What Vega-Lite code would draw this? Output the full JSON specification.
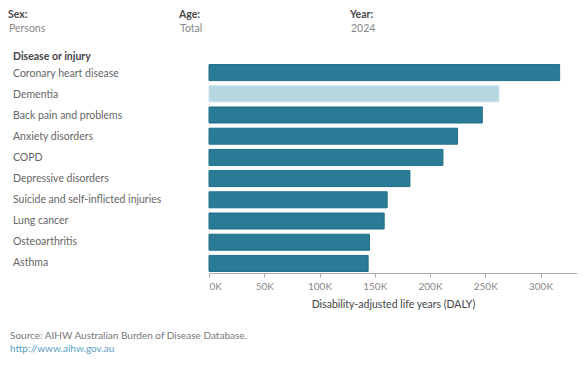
{
  "$schema": "https://vega.github.io/schema/vega-lite/v6.json",
  "background": "white",
  "padding": {"left": 8, "top": 6, "right": 0, "bottom": 0},
  "config": {"view": {"stroke": null}, "font": "Lato"},
  "datasets": {
    "daly": [
      {"disease": "Coronary heart disease", "daly": 317300},
      {"disease": "Dementia", "daly": 262400},
      {"disease": "Back pain and problems", "daly": 247300},
      {"disease": "Anxiety disorders", "daly": 224900},
      {"disease": "COPD", "daly": 211700},
      {"disease": "Depressive disorders", "daly": 181800},
      {"disease": "Suicide and self-inflicted injuries", "daly": 161200},
      {"disease": "Lung cancer", "daly": 158500},
      {"disease": "Osteoarthritis", "daly": 145200},
      {"disease": "Asthma", "daly": 144000}
    ]
  },
  "spacing": 16,
  "vconcat": [
    {
      "width": 342,
      "height": 23,
      "data": {"values": [
        {"k": "Sex:", "v": "Persons"},
        {"k": "Age:", "v": "Total"},
        {"k": "Year:", "v": "2024"}
      ]},
      "layer": [
        {
          "mark": {"type": "text", "align": "left", "baseline": "middle", "dy": -2.5, "fontSize": 10.5, "fontWeight": "bold", "color": "#4a4a4a"},
          "encoding": {
            "x": {"field": "k", "type": "nominal", "sort": null, "scale": {"type": "point", "padding": 0}, "axis": null},
            "text": {"field": "k"}
          }
        },
        {
          "mark": {"type": "text", "align": "left", "baseline": "middle", "dy": 11.5, "dx": 1, "fontSize": 10.5, "color": "#888"},
          "encoding": {
            "x": {"field": "k", "type": "nominal", "sort": null, "scale": {"type": "point", "padding": 0}, "axis": null},
            "text": {"field": "v"}
          }
        }
      ]
    },
    {
      "spacing": 0,
      "hconcat": [
        {
          "width": 200,
          "height": 210,
          "data": {"name": "daly"},
          "title": {"text": "Disease or injury", "anchor": "start", "dx": 5, "offset": 1, "fontSize": 10.5, "fontWeight": "bold", "color": "#444"},
          "mark": {"type": "text", "align": "left", "baseline": "middle", "dx": 5, "fontSize": 10.5, "color": "#666"},
          "encoding": {
            "x": {"datum": "a", "type": "nominal", "scale": {"type": "point", "padding": 0, "align": 0}, "axis": null},
            "y": {"field": "disease", "type": "nominal", "sort": null, "scale": {"paddingInner": 0.245, "paddingOuter": 0.075}, "axis": null},
            "text": {"field": "disease"}
          }
        },
        {
          "width": 368,
          "height": 210,
          "data": {"name": "daly"},
          "mark": {"type": "bar", "strokeWidth": 1},
          "encoding": {
            "y": {"field": "disease", "type": "nominal", "sort": null, "scale": {"paddingInner": 0.245, "paddingOuter": 0.075}, "axis": null},
            "x": {
              "field": "daly", "type": "quantitative",
              "scale": {"domain": [0, 333000], "nice": false},
              "axis": {
                "title": "Disability-adjusted life years (DALY)",
                "values": [0, 50000, 100000, 150000, 200000, 250000, 300000],
                "labelExpr": "datum.value / 1000 + 'K'",
                "grid": false, "domainColor": "#aaa", "tickColor": "#aaa", "tickSize": 4,
                "labelColor": "#888", "labelFontSize": 10, "labelPadding": 4,
                "labelAlign": {"condition": {"test": "datum.value === 0", "value": "left"}, "value": "center"},
                "titleFontSize": 10.5, "titleFontWeight": "normal", "titleColor": "#444", "titlePadding": 8
              }
            },
            "color": {"condition": {"test": "datum.disease === 'Dementia'", "value": "#b6d7df"}, "value": "#2a7b96"},
            "stroke": {"condition": {"test": "datum.disease === 'Dementia'", "value": "#cce3ea"}, "value": "#1f6d87"}
          }
        }
      ]
    },
    {
      "width": 300,
      "height": 33,
      "data": {"values": [
        {"line": "Source: AIHW Australian Burden of Disease Database.", "kind": "source"},
        {"line": "http://www.aihw.gov.au", "kind": "link"}
      ]},
      "mark": {"type": "text", "align": "left", "baseline": "middle", "dx": 2, "fontSize": 10},
      "encoding": {
        "x": {"datum": "a", "type": "nominal", "scale": {"type": "point", "padding": 0, "align": 0}, "axis": null},
        "y": {"field": "kind", "type": "nominal", "sort": null, "scale": {"type": "point", "padding": 0.77}, "axis": null},
        "text": {"field": "line"},
        "color": {"condition": {"test": "datum.kind === 'link'", "value": "#5aa0c4"}, "value": "#777"}
      }
    }
  ]
}
